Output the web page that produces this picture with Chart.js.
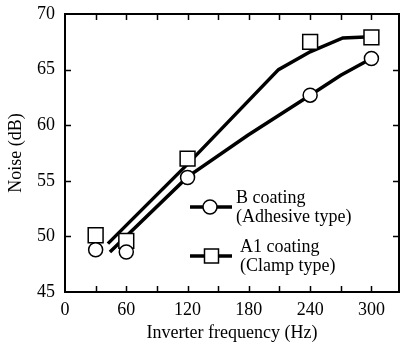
<!DOCTYPE html>
<html>
<head>
<meta charset="utf-8">
<script src="https://cdn.jsdelivr.net/npm/chart.js@4.4.0/dist/chart.umd.min.js"></script>
<style>
  html, body { margin: 0; padding: 0; background: #fff; }
  #wrap { width: 401px; height: 347px; position: relative; }
</style>
</head>
<body>
<div id="wrap"><canvas id="c"></canvas></div>
<script>
// Measured noise (dB) versus inverter frequency (Hz)
const freqs = [30, 60, 120, 240, 300];
const bCoating = [48.8, 48.6, 55.3, 62.7, 66.0];   // B coating (Adhesive type)
const a1Coating = [50.1, 49.6, 57.0, 67.5, 67.9];  // A1 coating (Clamp type)

// Trend curves through the measurements
const bCurveX = [44, 120, 179, 240, 270, 300];
const bCurveY = [48.6, 55.35, 59.1, 62.7, 64.5, 66.0];
const a1CurveX = [42, 120, 209, 240, 272, 300];
const a1CurveY = [49.35, 56.5, 65.0, 66.6, 67.85, 67.95];

const xTicks = [0, 60, 120, 180, 240, 300];
const yTicks = [45, 50, 55, 60, 65, 70];

const legendItems = [
  { style: 'circle', lines: ['B coating', '(Adhesive type)'] },
  { style: 'rect', lines: ['A1 coating', '(Clamp type)'] }
];

const FONT = '"Liberation Serif", "Times New Roman", serif';
const FSIZE = 18;
const pts = (xs, ys) => xs.map((x, i) => ({ x: x, y: ys[i] }));

// Box frame, inward tick marks and the in-plot legend
const framePlugin = {
  id: 'frame',
  afterDraw(chart) {
    const { ctx, chartArea: a, scales } = chart;
    const sx = scales.x, sy = scales.y;
    ctx.save();
    ctx.strokeStyle = '#000';
    ctx.lineWidth = 2;
    ctx.strokeRect(a.left, a.top, a.right - a.left, a.bottom - a.top);
    ctx.lineWidth = 1.5;
    ctx.beginPath();
    for (let v = 30; v < sx.max; v += 30) {
      const px = Math.round(sx.getPixelForValue(v)) + 0.5;
      ctx.moveTo(px, a.bottom); ctx.lineTo(px, a.bottom - 6);
      ctx.moveTo(px, a.top); ctx.lineTo(px, a.top + 6);
    }
    for (let v = 50; v < 70; v += 5) {
      const py = Math.round(sy.getPixelForValue(v)) + 0.5;
      ctx.moveTo(a.left, py); ctx.lineTo(a.left + 6, py);
      ctx.moveTo(a.right, py); ctx.lineTo(a.right - 6, py);
    }
    ctx.stroke();

    // legend
    const rows = [207, 256];
    legendItems.forEach((it, i) => {
      const y = rows[i];
      ctx.lineWidth = 3.5;
      ctx.beginPath();
      ctx.moveTo(190, y); ctx.lineTo(232, y);
      ctx.stroke();
      ctx.lineWidth = 1.5;
      ctx.fillStyle = '#fff';
      ctx.beginPath();
      if (it.style === 'circle') {
        ctx.arc(210, y, 7, 0, Math.PI * 2);
      } else {
        ctx.rect(211.5 - 7, y - 7, 14, 14);
      }
      ctx.fill(); ctx.stroke();
      ctx.fillStyle = '#000';
      ctx.font = FSIZE + 'px ' + FONT;
      ctx.textAlign = 'left';
      ctx.textBaseline = 'alphabetic';
      const tx = i === 0 ? 236 : 240;
      ctx.fillText(it.lines[0], tx, y - 4);
      ctx.fillText(it.lines[1], tx, y + 15);
    });
    ctx.restore();
  }
};

new Chart(document.getElementById('c'), {
  type: 'scatter',
  data: {
    datasets: [
      { label: 'B coating', data: pts(freqs, bCoating), showLine: false,
        pointStyle: 'circle', pointRadius: 7, pointBorderWidth: 1.5,
        pointBackgroundColor: '#fff', pointBorderColor: '#000', order: 0 },
      { label: 'A1 coating', data: pts(freqs, a1Coating), showLine: false,
        pointStyle: 'rect', pointRadius: 10.5, pointBorderWidth: 1.5,
        pointBackgroundColor: '#fff', pointBorderColor: '#000', order: 0 },
      { label: 'B trend', data: pts(bCurveX, bCurveY), showLine: true,
        borderColor: '#000', borderWidth: 3.5, pointRadius: 0, order: 1 },
      { label: 'A1 trend', data: pts(a1CurveX, a1CurveY), showLine: true,
        borderColor: '#000', borderWidth: 3.5, pointRadius: 0, order: 1 }
    ]
  },
  options: {
    responsive: true,
    maintainAspectRatio: false,
    animation: false,
    devicePixelRatio: 1,
    layout: { autoPadding: false, padding: { top: 14, right: 2, left: 0, bottom: 0 } },
    plugins: { legend: { display: false }, tooltip: { enabled: false } },
    scales: {
      x: {
        type: 'linear', min: 0, max: 327,
        afterBuildTicks(s) { s.ticks = xTicks.map(v => ({ value: v })); },
        afterFit(s) { s.height = 55; s.paddingLeft = 0; s.paddingRight = 0; },
        grid: { display: false, drawTicks: false },
        border: { display: false },
        ticks: { color: '#000', padding: 7, maxRotation: 0, autoSkip: false,
                 font: { family: FONT, size: FSIZE } },
        title: { display: true, text: 'Inverter frequency (Hz)', color: '#000',
                 font: { family: FONT, size: FSIZE }, padding: { top: 0, bottom: 3 } }
      },
      y: {
        type: 'linear', min: 45, max: 70,
        afterBuildTicks(s) { s.ticks = yTicks.map(v => ({ value: v })); },
        afterFit(s) { s.width = 65; s.paddingTop = 0; s.paddingBottom = 0; },
        grid: { display: false, drawTicks: false },
        border: { display: false },
        ticks: { color: '#000', padding: 10, autoSkip: false,
                 font: { family: FONT, size: FSIZE } },
        title: { display: true, text: 'Noise (dB)', color: '#000',
                 font: { family: FONT, size: FSIZE }, padding: { top: 5, bottom: 0 } }
      }
    }
  },
  plugins: [framePlugin]
});
</script>
</body>
</html>
